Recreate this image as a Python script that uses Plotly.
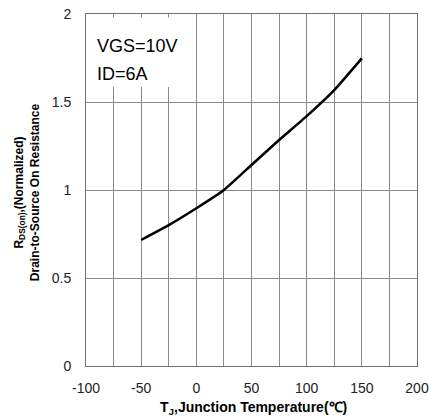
import plotly.graph_objects as go

temps = [-50, -25, 0, 25, 50, 75, 100, 125, 150]
rds_norm = [0.716, 0.80, 0.896, 1.0, 1.142, 1.284, 1.42, 1.568, 1.748]
x_ticks = [-100, -50, 0, 50, 100, 150, 200]
y_ticks = [0, 0.5, 1, 1.5, 2]

FONT = "Liberation Sans, Arial, sans-serif"

fig = go.Figure()
fig.add_trace(go.Scatter(x=temps, y=rds_norm, mode="lines",
                         line=dict(color="black", width=2.5, shape="spline", smoothing=0.4),
                         showlegend=False, hoverinfo="skip"))

fig.update_layout(
    width=430, height=417,
    margin=dict(l=86, r=13, t=14, b=51),
    paper_bgcolor="white", plot_bgcolor="white",
    font=dict(family=FONT, size=14, color="black"),
    xaxis=dict(range=[-100, 200], tickvals=x_ticks, ticktext=[str(v) for v in x_ticks],
               automargin=False,
               showgrid=True, gridcolor="#8a8a8a", gridwidth=1,
               minor=dict(dtick=25, showgrid=True, gridcolor="#8a8a8a", gridwidth=1),
               showline=True, linecolor="#707070", linewidth=1, mirror=True,
               zeroline=False, ticks="", ticklabelstandoff=9,
               tickfont=dict(size=14, color="#222")),
    yaxis=dict(range=[0, 2], tickvals=y_ticks, ticktext=["0", "0.5", "1", "1.5", "2"],
               automargin=False,
               showgrid=True, gridcolor="#8a8a8a", gridwidth=1,
               showline=True, linecolor="#707070", linewidth=1, mirror=True,
               zeroline=False, ticks="", ticklabelstandoff=11,
               tickfont=dict(size=14, color="#222")),
)

# condition box
fig.add_shape(type="rect", xref="x", yref="y", x0=-96, x1=-9, y0=1.585, y1=1.98,
              fillcolor="white", line=dict(width=0), layer="above")
fig.add_annotation(xref="x", yref="y", x=-92, y=1.818, text="VGS=10V", showarrow=False,
                   xanchor="left", yanchor="middle", font=dict(size=18, color="black", family=FONT))
fig.add_annotation(xref="x", yref="y", x=-92, y=1.66, text="ID=6A", showarrow=False,
                   xanchor="left", yanchor="middle", font=dict(size=18, color="black", family=FONT))

# axis titles
fig.add_annotation(xref="paper", yref="paper", x=0.507, y=-0.118, yanchor="middle",
                   text="<b>T<sub>J</sub>,Junction Temperature(℃)</b>", showarrow=False,
                   font=dict(size=14, color="black", family=FONT))
fig.add_annotation(xref="paper", yref="paper", x=-0.178, y=0.494, xanchor="center", yanchor="middle",
                   text="<b>R<sub>DS(on)</sub>,(Normalized)<br>Drain-to-Source On Resistance</b>",
                   showarrow=False, textangle=-90,
                   font=dict(size=12, color="black", family=FONT))

fig.write_html("out.html", config={"displayModeBar": False},
               post_script="document.body.style.margin='0';document.body.style.overflow='hidden';")
